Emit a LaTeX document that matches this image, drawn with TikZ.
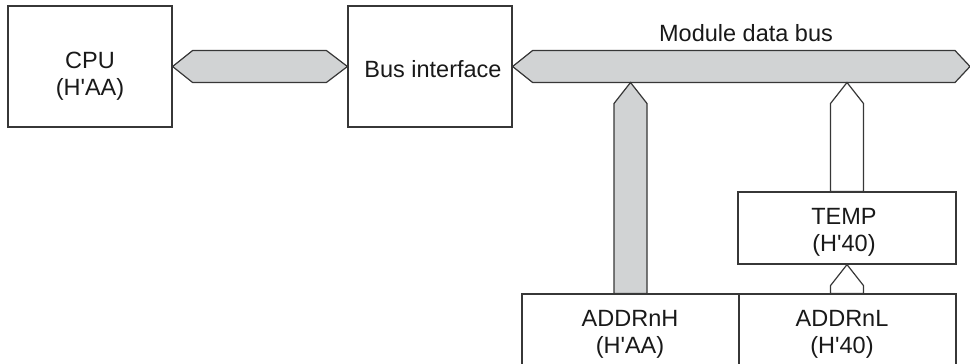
\documentclass[tikz,border=0pt]{standalone}
\usepackage{fontspec}
\setmainfont{Liberation Sans}[Ligatures=TeXOff]
\usetikzlibrary{calc}
\definecolor{busgray}{RGB}{209,211,212}
\definecolor{linegray}{RGB}{55,55,55}
\begin{document}
\begin{tikzpicture}[x=1pt,y=-1pt,
  box/.style={draw=linegray, line width=1.2pt, inner sep=0pt, fill=white},
  lbl/.style={font=\fontsize{23.5}{27}\selectfont, align=center, inner sep=0pt, anchor=base, text=black!90},
  bus/.style={draw=linegray, line width=1.2pt, line join=miter, fill=busgray},
  wbus/.style={draw=linegray, line width=1.2pt, line join=miter, fill=white}]
\useasboundingbox (0,0) rectangle (970,364);
\clip (0,0) rectangle (970,364);
% boxes
\node[box, minimum width=164pt, minimum height=121pt] (cpu) at (90,66.5) {};
\node[box, minimum width=164pt, minimum height=121pt] (bif) at (430,66.5) {};
\node[box, minimum width=218pt, minimum height=72pt] (temp) at (847,228) {};
\node[box, minimum width=217pt, minimum height=76pt] (addrh) at (630.5,332) {};
\node[box, minimum width=217pt, minimum height=76pt] (addrl) at (847.5,332) {};
% texts (anchor base = baseline of last line)
\node[lbl] (cputxt) at (90,95) {CPU\\(H'AA)};
\node[lbl] (biftxt) at (433,77) {Bus interface};
\node[lbl] (temptxt) at (844,251) {TEMP\\(H'40)};
\node[lbl] (addrhtxt) at (630,353) {ADDRnH\\(H'AA)};
\node[lbl] (addrltxt) at (842,353) {ADDRnL\\(H'40)};
\node[lbl] (mdb) at (746,41) {Module data bus};
% CPU <-> bus interface
\draw[bus] (cpu.east) -- ($(cpu.east)+(20,-16)$) -- ($(bif.west)+(-21,-16)$) -- (bif.west)
  -- ($(bif.west)+(-21,16)$) -- ($(cpu.east)+(20,16)$) -- cycle;
% module data bus
\coordinate (busend) at (970,66.5);
\draw[bus] (bif.east) -- ($(bif.east)+(20,-16)$) -- ($(busend)+(-15,-16)$) -- (busend)
  -- ($(busend)+(-15,16)$) -- ($(bif.east)+(20,16)$) -- cycle;
% gray vertical to ADDRnH
\coordinate (htip) at ($(addrh.north |- busend)+(0,16)$);
\draw[bus] (htip) -- ($(htip)+(16.5,21)$) -- ($(addrh.north)+(16.5,0)$)
  -- ($(addrh.north)+(-16.5,0)$) -- ($(htip)+(-16.5,21)$) -- cycle;
% white vertical to TEMP
\coordinate (ttip) at ($(temp.north |- busend)+(0,16)$);
\draw[wbus] (ttip) -- ($(ttip)+(16.5,21)$) -- ($(temp.north)+(16.5,0)$)
  -- ($(temp.north)+(-16.5,0)$) -- ($(ttip)+(-16.5,21)$) -- cycle;
% ADDRnL -> TEMP
\draw[wbus] (temp.south) -- ($(temp.south)+(16.5,21)$) -- ($(temp.south |- addrl.north)+(16.5,0)$)
  -- ($(temp.south |- addrl.north)+(-16.5,0)$) -- ($(temp.south)+(-16.5,21)$) -- cycle;
\end{tikzpicture}
\end{document}
